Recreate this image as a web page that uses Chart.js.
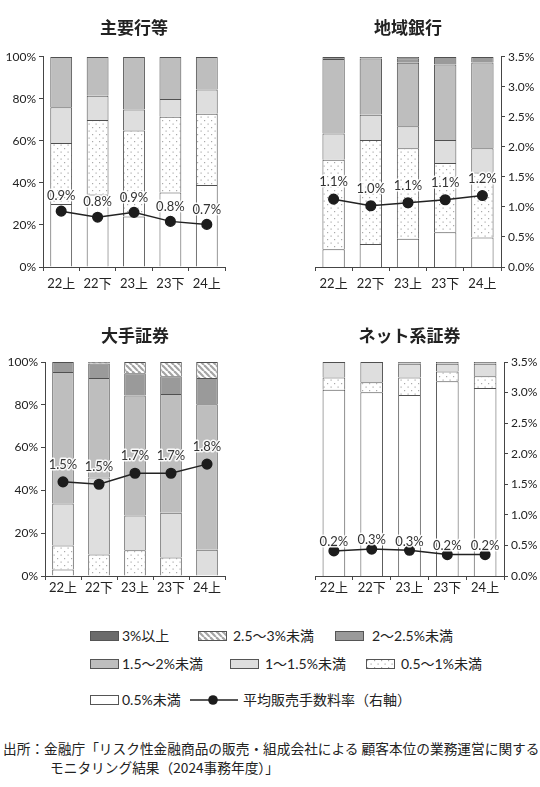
<!DOCTYPE html>
<html>
<head>
<meta charset="utf-8">
<script src="https://cdn.jsdelivr.net/npm/chart.js@4.4.1/dist/chart.umd.min.js"></script>
<style>
  body { margin: 0; background: #fff; width: 540px; height: 787px; position: relative; overflow: hidden;
         font-family: Lato, "Noto Sans CJK JP", sans-serif; color: #222; }
  canvas.pane { position: absolute; }
  .lg { position: absolute; font-size: 14px; line-height: 16px; white-space: nowrap; }
  .sw { position: absolute; }
  .src { position: absolute; font-family: "Noto Sans CJK JP", sans-serif; font-size: 13.7px; line-height: 16px; white-space: nowrap; }
</style>
</head>
<body>
<canvas id="c1" class="pane" width="270" height="300" style="left:0;top:0"></canvas>
<canvas id="c2" class="pane" width="270" height="300" style="left:270px;top:0"></canvas>
<canvas id="c3" class="pane" width="270" height="305" style="left:0;top:305px"></canvas>
<canvas id="c4" class="pane" width="270" height="305" style="left:270px;top:305px"></canvas>

<!-- legend -->
<canvas id="sw6" class="sw" width="29" height="10" style="left:90px;top:631px"></canvas>
<div class="lg" style="left:122px;top:628px">3%以上</div>
<canvas id="sw5" class="sw" width="29" height="10" style="left:198px;top:631px"></canvas>
<div class="lg" style="left:233px;top:628px">2.5～3%未満</div>
<canvas id="sw4" class="sw" width="29" height="10" style="left:335px;top:631px"></canvas>
<div class="lg" style="left:372px;top:628px">2～2.5%未満</div>

<canvas id="sw3" class="sw" width="29" height="10" style="left:90px;top:659px"></canvas>
<div class="lg" style="left:122px;top:656px">1.5～2%未満</div>
<canvas id="sw2" class="sw" width="29" height="10" style="left:230px;top:659px"></canvas>
<div class="lg" style="left:265px;top:656px">1～1.5%未満</div>
<canvas id="sw1" class="sw" width="29" height="10" style="left:366px;top:659px"></canvas>
<div class="lg" style="left:401px;top:656px">0.5～1%未満</div>

<canvas id="sw0" class="sw" width="29" height="10" style="left:90px;top:695px"></canvas>
<div class="lg" style="left:122px;top:692px">0.5%未満</div>
<canvas id="swLine" class="sw" width="48" height="12" style="left:190px;top:694px"></canvas>
<div class="lg" style="left:243px;top:692px">平均販売手数料率（右軸）</div>

<div class="src" style="left:3px;top:740px">出所：金融庁「リスク性金融商品の販売・組成会社による 顧客本位の業務運営に関する</div>
<div class="src" style="left:50px;top:759px">モニタリング結果（2024事務年度）」</div>

<script>
'use strict'

var categories = ['22上', '22下', '23上', '23下', '24上'];
var bandNames = ['0.5%未満', '0.5～1%未満', '1～1.5%未満', '1.5～2%未満', '2～2.5%未満', '2.5～3%未満', '3%以上'];

// shares (%) per band, rows in bandNames order
var shuyoBands = [
    [30, 34.5, 24, 35.5, 39],
    [29, 35.5, 41, 36, 34],
    [17, 11.5, 10, 8.5, 11.5],
    [24, 18.5, 25, 20, 15.5],
    [0, 0, 0, 0, 0],
    [0, 0, 0, 0, 0],
    [0, 0, 0, 0, 0]
];
var shuyoRate = [0.93, 0.83, 0.91, 0.76, 0.71];
var shuyoRateLabels = ['0.9%', '0.8%', '0.9%', '0.8%', '0.7%'];

var chiikiBands = [
    [8.5, 11, 13.5, 16.5, 14],
    [42.5, 49.5, 43, 33, 31],
    [12.5, 12, 10.5, 11, 11.5],
    [35.5, 26.7, 30.2, 35.9, 40.8],
    [1, 0.8, 2.1, 3.6, 2.7],
    [0, 0, 0, 0, 0],
    [0, 0, 0.7, 0, 0]
];
var chiikiRate = [1.13, 1.02, 1.07, 1.12, 1.19];
var chiikiRateLabels = ['1.1%', '1.0%', '1.1%', '1.1%', '1.2%'];

var oteBands = [
    [3, 0, 0, 0, 0],
    [11.2, 10, 12, 8.6, 0],
    [19.7, 36, 16.3, 20.9, 12.3],
    [61.4, 46.5, 56.1, 55.5, 68],
    [4.7, 6.8, 10.4, 8.3, 12.2],
    [0, 0.7, 5.2, 6.7, 7.5],
    [0, 0, 0, 0, 0]
];
var oteRate = [1.54, 1.50, 1.68, 1.68, 1.83];
var oteRateLabels = ['1.5%', '1.5%', '1.7%', '1.7%', '1.8%'];

var netBands = [
    [87, 85.9, 84.6, 91, 87.8],
    [5.8, 4.6, 8.2, 4.6, 5.5],
    [7.2, 9.5, 6.4, 3.6, 5.9],
    [0, 0, 0.8, 0.8, 0.8],
    [0, 0, 0, 0, 0],
    [0, 0, 0, 0, 0],
    [0, 0, 0, 0, 0]
];
var netRate = [0.41, 0.44, 0.42, 0.35, 0.35];
var netRateLabels = ['0.2%', '0.3%', '0.3%', '0.2%', '0.2%'];

Chart.defaults.font.family = 'Lato, "Noto Sans CJK JP", sans-serif';
Chart.defaults.color = '#222';

// pattern tiles
var dotTile = document.createElement('canvas');
dotTile.width = 7; dotTile.height = 7;
(function () {
    var c = dotTile.getContext('2d');
    c.fillStyle = '#fff'; c.fillRect(0, 0, 7, 7);
    c.fillStyle = '#aaaaaa';
    c.fillRect(1, 1, 1.2, 1.2);
    c.fillRect(4.5, 4.5, 1.2, 1.2);
})();
var hatchTile = document.createElement('canvas');
hatchTile.width = 6; hatchTile.height = 6;
(function () {
    var c = hatchTile.getContext('2d');
    c.fillStyle = '#fff'; c.fillRect(0, 0, 6, 6);
    c.strokeStyle = '#a5a5a5'; c.lineWidth = 2.2;
    [-6, 0, 6].forEach(function (k) {
        c.beginPath(); c.moveTo(k, 0); c.lineTo(k + 6, 6); c.stroke();
    });
})();

function bandFills(ctx) {
    return ['#ffffff', ctx.createPattern(dotTile, 'repeat'), '#dedede', '#bebebe',
        '#9a9a9a', ctx.createPattern(hatchTile, 'repeat'), '#6b6b6b'];
}

var rateLabelPlugin = {
    id: 'rateLabels',
    afterDatasetsDraw: function (chart, args, opts) {
        var meta = chart.getDatasetMeta(chart.data.datasets.length - 1);
        var ctx = chart.ctx;
        ctx.save();
        ctx.font = '13px Lato, "Noto Sans CJK JP", sans-serif';
        ctx.textAlign = 'center';
        ctx.textBaseline = 'middle';
        ctx.lineJoin = 'round';
        ctx.lineWidth = 3;
        ctx.strokeStyle = 'rgba(255,255,255,0.9)';
        ctx.fillStyle = '#333';
        meta.data.forEach(function (pt, i) {
            var t = opts.labels[i];
            ctx.strokeText(t, pt.x, pt.y - opts.offset);
            ctx.fillText(t, pt.x, pt.y - opts.offset);
        });
        ctx.restore();
    }
};

var panels = [
    { id: 'c1', title: '主要行等', bands: shuyoBands, rate: shuyoRate, labels: shuyoRateLabels,
      left: true, axisW: 43, xH: 33, pad: { left: 0, right: 2 }, tPad: { top: 17, bottom: 19.5 }, xPad: 5, off: 15 },
    { id: 'c2', title: '地域銀行', bands: chiikiBands, rate: chiikiRate, labels: chiikiRateLabels,
      left: false, axisW: 39, xH: 33, pad: { left: 6, right: 0 }, tPad: { top: 17, bottom: 19.5 }, xPad: 5, off: 17 },
    { id: 'c3', title: '大手証券', bands: oteBands, rate: oteRate, labels: oteRateLabels,
      left: true, axisW: 45, xH: 34, pad: { left: 0, right: 0 }, tPad: { top: 20, bottom: 16.6 }, xPad: 0, off: 17 },
    { id: 'c4', title: 'ネット系証券', bands: netBands, rate: netRate, labels: netRateLabels,
      left: false, axisW: 36, xH: 34, pad: { left: 9, right: 0 }, tPad: { top: 20, bottom: 16.6 }, xPad: 0, off: 9 }
];

var axisColor = '#454545';

panels.forEach(function (p) {
    var ctx = document.getElementById(p.id).getContext('2d');
    var fills = bandFills(ctx);
    var datasets = p.bands.map(function (vals, i) {
        return {
            type: 'bar',
            label: bandNames[i],
            // empty bands are left out so they draw no outline
            data: vals.map(function (v) { return v > 0 ? v : null; }),
            yAxisID: 'y',
            stack: 's',
            order: 1,
            backgroundColor: fills[i],
            borderColor: '#505050',
            borderWidth: 1,
            barPercentage: 0.6,
            categoryPercentage: 1
        };
    });
    datasets.push({
        type: 'line',
        label: '平均販売手数料率(右軸)',
        data: p.rate,
        yAxisID: 'y2',
        order: 0,
        borderColor: '#222',
        borderWidth: 1.5,
        pointRadius: 4.8,
        pointBackgroundColor: '#1c1c1c',
        pointBorderColor: '#1c1c1c',
        tension: 0
    });

    new Chart(ctx, {
        type: 'bar',
        data: { labels: categories, datasets: datasets },
        plugins: [rateLabelPlugin],
        options: {
            responsive: false,
            animation: false,
            layout: { padding: { left: p.pad.left, right: p.pad.right, top: 0, bottom: 0 } },
            plugins: {
                legend: { display: false },
                tooltip: { enabled: false },
                title: {
                    display: true,
                    text: p.title,
                    color: '#222',
                    font: { size: 17, weight: 'bold', family: '"Noto Sans CJK JP", sans-serif' },
                    padding: p.tPad
                },
                rateLabels: { labels: p.labels, offset: p.off }
            },
            scales: {
                x: {
                    stacked: true,
                    offset: true,
                    grid: { offset: true, drawOnChartArea: false, tickLength: 4, color: axisColor },
                    border: { color: axisColor },
                    ticks: { font: { size: 13 }, color: '#222', padding: p.xPad },
                    afterFit: function (s) { s.height = p.xH; }
                },
                y: {
                    display: p.left,
                    stacked: true,
                    min: 0,
                    max: 100,
                    ticks: { stepSize: 20, font: { size: 12 }, color: '#222', padding: 3,
                        callback: function (v) { return v + '%'; } },
                    grid: { drawOnChartArea: false, tickLength: 4, color: axisColor },
                    border: { color: axisColor },
                    afterFit: function (s) { s.width = p.axisW; }
                },
                y2: {
                    display: !p.left,
                    position: 'right',
                    min: 0,
                    max: 3.5,
                    ticks: { stepSize: 0.5, font: { size: 12 }, color: '#222', padding: 3,
                        callback: function (v) { return v.toFixed(1) + '%'; } },
                    grid: { drawOnChartArea: false, tickLength: 4, color: axisColor },
                    border: { color: axisColor },
                    afterFit: function (s) { s.width = p.axisW; }
                }
            }
        }
    });
});

// legend swatches
for (var i = 0; i < bandNames.length; i++) {
    var cv = document.getElementById('sw' + i);
    var c = cv.getContext('2d');
    c.fillStyle = bandFills(c)[i];
    c.fillRect(0, 0, cv.width, cv.height);
    c.strokeStyle = '#555';
    c.lineWidth = 1;
    c.strokeRect(0.5, 0.5, cv.width - 1, cv.height - 1);
}
(function () {
    var c = document.getElementById('swLine').getContext('2d');
    c.strokeStyle = '#222'; c.lineWidth = 1.5;
    c.beginPath(); c.moveTo(0, 6); c.lineTo(48, 6); c.stroke();
    c.fillStyle = '#1c1c1c';
    c.beginPath(); c.arc(23, 6, 4.8, 0, Math.PI * 2); c.fill();
})();
</script>
</body>
</html>
